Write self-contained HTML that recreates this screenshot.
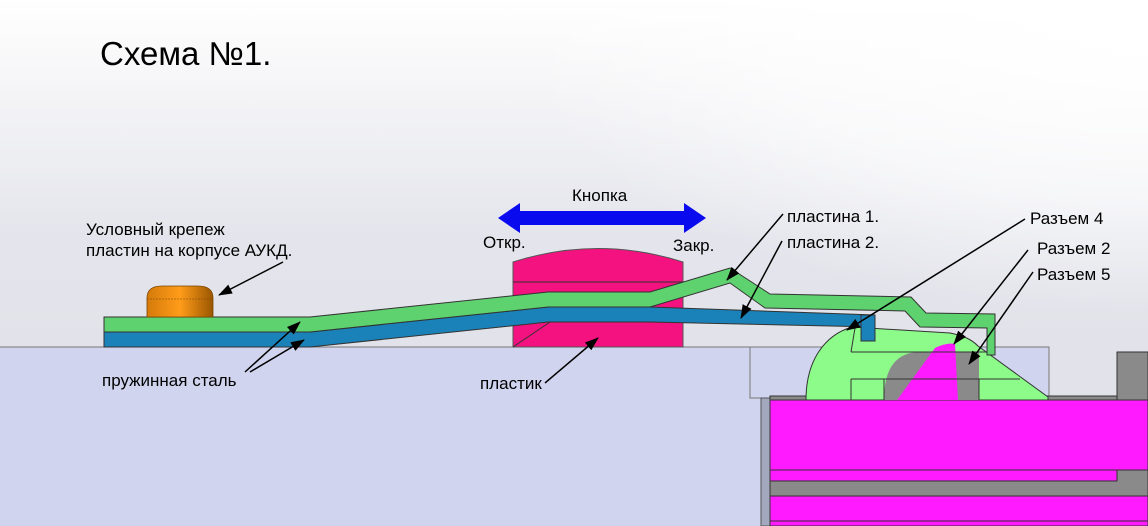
<!DOCTYPE html>
<html><head><meta charset="utf-8"><style>
html,body{margin:0;padding:0;width:1148px;height:526px;overflow:hidden}
svg{display:block}
text{font-family:"Liberation Sans",sans-serif;fill:#000}
</style></head><body>
<svg width="1148" height="526" viewBox="0 0 1148 526" xmlns="http://www.w3.org/2000/svg">
<defs>
<linearGradient id="bg" x1="0" y1="0" x2="0" y2="1">
<stop offset="0" stop-color="#ffffff"/>
<stop offset="0.15" stop-color="#f6f6f8"/>
<stop offset="0.45" stop-color="#e4e5ec"/>
<stop offset="0.66" stop-color="#e2e3ea"/>
</linearGradient>
<radialGradient id="rw" cx="1" cy="0.05" r="0.55" gradientTransform="translate(0,0) scale(1,1)">
<stop offset="0" stop-color="#ffffff" stop-opacity="1"/>
<stop offset="0.6" stop-color="#ffffff" stop-opacity="0.6"/>
<stop offset="1" stop-color="#ffffff" stop-opacity="0"/>
</radialGradient>
<linearGradient id="cap" x1="0" y1="0" x2="1" y2="0">
<stop offset="0" stop-color="#d57a0a"/>
<stop offset="0.5" stop-color="#ff9c1a"/>
<stop offset="1" stop-color="#9a5600"/>
</linearGradient>
<marker id="ah" markerWidth="14" markerHeight="10" refX="13" refY="5" orient="auto" markerUnits="userSpaceOnUse">
<path d="M0,0 L14,5 L0,10 Z" fill="#000"/>
</marker>
</defs>
<rect width="1148" height="526" fill="url(#bg)"/>
<rect width="1148" height="526" fill="url(#rw)"/>
<!-- floor -->
<rect x="0" y="347" width="762" height="179" fill="#d0d4ee"/>
<line x1="0" y1="347" x2="750" y2="347" stroke="#777" stroke-width="1"/>
<rect x="750" y="347" width="299" height="51" fill="#d0d4ee" stroke="#777" stroke-width="1"/>
<!-- right assembly -->
<rect x="761" y="398" width="10" height="128" fill="#a4a8be" stroke="#555" stroke-width="1"/>
<rect x="770" y="396" width="378" height="5" fill="#8a8a8a" stroke="#333" stroke-width="1"/>
<rect x="1117" y="352" width="31" height="48" fill="#8a8a8a" stroke="#333" stroke-width="1"/>
<rect x="770" y="400" width="378" height="70" fill="#ff1aff" stroke="#333" stroke-width="1"/>
<rect x="770" y="470" width="378" height="26" fill="#8a8a8a" stroke="#333" stroke-width="1"/>
<rect x="770" y="470" width="347" height="11" fill="#ff1aff" stroke="#333" stroke-width="1"/>
<rect x="770" y="496" width="378" height="25" fill="#ff1aff" stroke="#333" stroke-width="1"/>
<rect x="770" y="521" width="378" height="5" fill="#ff1aff" stroke="#333" stroke-width="1"/>
<!-- connector green -->
<path d="M806,400 C806,360 825,335 852,327 L950,333 C965,336 972,340 978,346 L1048,397 L1048,400 Z" fill="#8dfb8a" stroke="#333" stroke-width="1"/>
<path d="M884,400 C884,370 895,352 920,352 L958,352 L958,400 Z" fill="#8a8a8a"/>
<path d="M897,400 L935,348 C943,344 950,343 955,344 L958,400 Z" fill="#ff1aff"/>
<rect x="958" y="352" width="21" height="48" fill="#8a8a8a"/>
<path d="M851,352 L986,352 M851,379 L1020,379 M851,379 L851,400 M884,379 L884,400 M979,379 L979,400" stroke="#333" stroke-width="1" fill="none"/>
<path d="M855,328 L851,352" stroke="#333" stroke-width="1"/>
<!-- pink button -->
<path d="M513,347 L513,262 Q598,235 683,262 L683,347 Z" fill="#f3127f" stroke="#555" stroke-width="1"/>
<line x1="513" y1="282" x2="683" y2="282" stroke="#333" stroke-width="1"/>
<line x1="513" y1="347" x2="550" y2="322" stroke="#333" stroke-width="1"/>
<!-- blue plate -->
<path d="M104,332 L310,332 L548,307 L650,307 L875,315 L875,327 L650,322 L548,322 L310,347 L104,347 Z" fill="#1a82b8" stroke="#333" stroke-width="1"/>
<rect x="861" y="315" width="14" height="26" fill="#1a82b8" stroke="#333" stroke-width="1"/>
<!-- green plate -->
<path d="M104,317 L310,317 L548,292 L650,292 L730,268 L770,294 L911,297 L926,313 L995,314 L995,355 L987,355 L987,328 L920,327 L905,311 L765,308 L730,283 L650,307 L548,307 L310,332 L104,332 Z" fill="#5ed26e" stroke="#333" stroke-width="1"/>
<!-- cap -->
<path d="M147,317 L147,298 Q147,286 162,286 L198,286 Q213,286 213,298 L213,317 Z" fill="url(#cap)" stroke="#7a4400" stroke-width="0.8"/>
<line x1="147" y1="299" x2="213" y2="299" stroke="#7a4400" stroke-width="0.6" stroke-dasharray="2,1"/>
<!-- blue double arrow -->
<path d="M498,218 L520,203 L520,211 L684,211 L684,203 L706,218 L684,233 L684,225 L520,225 L520,233 Z" fill="#0a0aee"/>
<!-- texts -->
<text x="100" y="65" font-size="33">Схема №1.</text>
<text x="86" y="235" font-size="17">Условный крепеж</text>
<text x="86" y="256" font-size="17">пластин на корпусе АУКД.</text>
<text x="572" y="201" font-size="17">Кнопка</text>
<text x="483" y="248" font-size="17">Откр.</text>
<text x="673" y="251" font-size="17">Закр.</text>
<text x="787" y="222" font-size="17">пластина 1.</text>
<text x="787" y="248" font-size="17">пластина 2.</text>
<text x="1030" y="224" font-size="17">Разъем 4</text>
<text x="1037" y="254" font-size="17">Разъем 2</text>
<text x="1037" y="280" font-size="17">Разъем 5</text>
<text x="102" y="386" font-size="17">пружинная сталь</text>
<text x="480" y="389" font-size="17">пластик</text>
<!-- leaders -->
<g stroke="#000" stroke-width="1.5" fill="none" marker-end="url(#ah)">
<line x1="283" y1="262" x2="219" y2="295"/>
<line x1="245" y1="372" x2="300" y2="322"/>
<line x1="250" y1="372" x2="304" y2="340"/>
<line x1="545" y1="383" x2="598" y2="338"/>
<line x1="783" y1="214" x2="727" y2="280"/>
<line x1="782" y1="241" x2="741" y2="318"/>
<line x1="1025" y1="219" x2="847" y2="330"/>
<line x1="1028" y1="250" x2="954" y2="344"/>
<line x1="1033" y1="272" x2="969" y2="364"/>
</g>
</svg>
</body></html>
